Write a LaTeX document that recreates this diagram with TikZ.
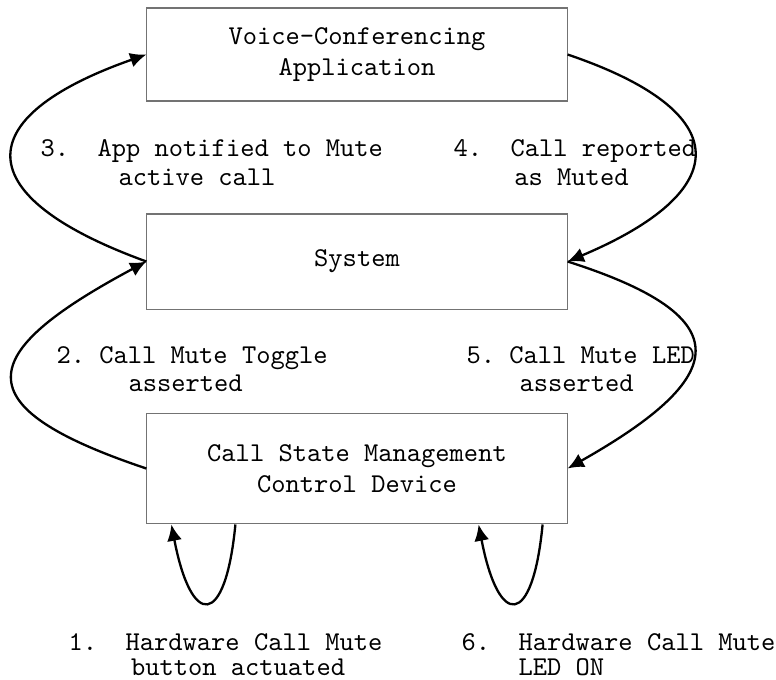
\documentclass[tikz,border=0pt]{standalone}
\usetikzlibrary{arrows.meta,calc}
\begin{document}
\begin{tikzpicture}[x=0.368pt,y=-0.368pt,
  box/.style={draw=black!55, line width=0.4pt, minimum width=154.6pt, inner sep=0pt, align=center, font=\ttfamily},
  conn/.style={line width=0.85pt, -{Latex[length=6pt,width=5.5pt]}},
  lbl/.style={anchor=north west, inner sep=0pt, align=left, font=\ttfamily}]
\useasboundingbox (0,0) rectangle (776,679);
\node[box, minimum height=34.2pt] (top) at (357,54.5) {Voice-Conferencing\\[-0.7pt]Application};
\node[box, minimum height=35pt] (sys) at (357,261.5) {System};
\node[box, minimum height=40.8pt] (csm) at (357,468.5) {Call State Management\\[-0.7pt]Control Device};
\draw[conn] (sys.west) .. controls +(-179,-65) and +(-179,63) .. (top.west);
\draw[conn] (csm.west) .. controls +(-185,-62) and +(-172,92) .. (sys.west);
\draw[conn] (top.east) .. controls +(171,58) and +(166,-70) .. (sys.east);
\draw[conn] (sys.east) .. controls +(176,56) and +(161,-91) .. (csm.east);
\coordinate (l1s) at ($(csm.south west)+(89,0)$);
\coordinate (l1e) at ($(csm.south west)+(25,0)$);
\coordinate (l2s) at ($(csm.south east)+(-25,0)$);
\coordinate (l2e) at ($(csm.south east)+(-89,0)$);
\draw[conn] (l1s) .. controls +(-10,104) and +(20,104) .. (l1e);
\draw[conn] (l2s) .. controls +(-10,104) and +(20,104) .. (l2e);
\node[lbl] (n3) at (40,139) {3.\ \ App notified to Mute\\[-1.5pt]\hspace*{28.7pt}active call};
\node[lbl] (n4) at (453,139) {4.\ \ Call reported\\[-1.5pt]\hspace*{22.4pt}as Muted};
\node[lbl] (n2) at (56,346) {2.\ Call Mute Toggle\\[-1.5pt]\hspace*{26.5pt}asserted};
\node[lbl] (n5) at (466,346) {5.\ Call Mute LED\\[-1.5pt]\hspace*{19.5pt}asserted};
\node[lbl] (n1) at (68,633) {1.\ \ Hardware Call Mute\\[-2.8pt]\hspace*{23pt}button actuated};
\node[lbl] (n6) at (461,633) {6.\ \ Hardware Call Mute\\[-2.8pt]\hspace*{21pt}LED ON};
\end{tikzpicture}
\end{document}
